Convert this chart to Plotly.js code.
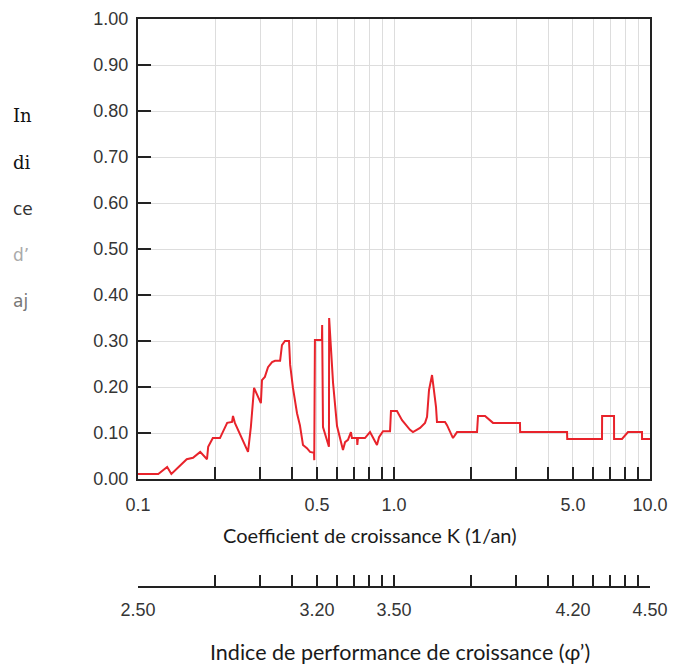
<!DOCTYPE html>
<html>
<head>
<meta charset="utf-8">
<script src="https://cdn.plot.ly/plotly-3.0.1.min.js"></script>
<style>html,body{margin:0;padding:0;background:#fff;}#chart{width:674px;height:665px;}</style>
</head>
<body>
<div id="chart"></div>
<script>
// Growth coefficient K (1/an)
const kValues = [0.100,0.120,0.130,0.135,0.155,0.164,0.175,0.186,0.188,0.196,0.209,0.223,0.233,0.235,0.239,0.269,0.276,0.284,0.302,0.305,0.313,0.322,0.334,0.343,0.359,0.365,0.375,0.389,0.393,0.403,0.418,0.429,0.441,0.457,0.470,0.487,0.488,0.491,0.523,0.524,0.528,0.557,0.558,0.568,0.578,0.599,0.615,0.632,0.644,0.661,0.679,0.685,0.717,0.719,0.723,0.770,0.806,0.828,0.858,0.874,0.906,0.965,0.973,1.027,1.075,1.155,1.186,1.264,1.322,1.346,1.370,1.408,1.420,1.459,1.472,1.582,1.611,1.700,1.763,2.110,2.129,2.268,2.436,3.105,3.110,4.742,4.750,6.494,6.500,7.235,7.240,7.773,8.205,9.306,9.310,10.0];
// Fit index
const fitIndex = [0.011,0.011,0.026,0.011,0.043,0.046,0.059,0.043,0.070,0.089,0.089,0.122,0.124,0.137,0.122,0.059,0.113,0.198,0.165,0.215,0.222,0.243,0.254,0.257,0.257,0.291,0.300,0.300,0.248,0.198,0.143,0.117,0.074,0.067,0.059,0.057,0.041,0.302,0.302,0.335,0.113,0.070,0.350,0.265,0.209,0.115,0.089,0.063,0.080,0.085,0.102,0.089,0.089,0.074,0.089,0.089,0.102,0.089,0.074,0.091,0.104,0.104,0.148,0.148,0.128,0.107,0.102,0.111,0.122,0.135,0.193,0.226,0.209,0.157,0.124,0.124,0.117,0.089,0.102,0.102,0.137,0.137,0.122,0.122,0.102,0.102,0.087,0.087,0.137,0.137,0.087,0.087,0.102,0.102,0.087,0.087];

const kTicks = [0.1,0.2,0.3,0.4,0.5,0.6,0.7,0.8,0.9,1,2,3,4,5,6,7,8,9,10];
const kTickText = ['0.1','','','','0.5','','','','','1.0','','','','5.0','','','','','10.0'];
const phiTicks = [2.50,2.801,2.977,3.102,3.199,3.278,3.345,3.403,3.454,3.50,3.801,3.977,4.102,4.199,4.278,4.345,4.403,4.454,4.50];
const phiTickText = ['2.50','','','','3.20','','','','','3.50','','','','4.20','','','','','4.50'];
const yTicks = [0,0.1,0.2,0.3,0.4,0.5,0.6,0.7,0.8,0.9,1.0];
const yTickText = ['0.00','0.10','0.20','0.30','0.40','0.50','0.60','0.70','0.80','0.90','1.00'];
const yTitleParts = ['In','di','ce','d\u2019','aj'];

// layout geometry (pixels)
const W = 674, H = 665, L = 138, R = 650, T = 19, B = 479, B2 = 587;
const ph = B2 - T;
const yDomBottom = (B2 - B) / ph;
const px = x => (x - L) / (R - L);
const py = y => (B2 - y) / ph;

const tickFont = {family: 'Liberation Sans, Arial, sans-serif', size: 18, color: '#353535'};
const titleFont = {family: 'Lato, Open Sans, sans-serif', size: 20, color: '#1a1a1a'};

const traces = [
  {x: kValues, y: fitIndex, type: 'scatter', mode: 'lines', line: {color: '#e8232b', width: 2}, xaxis: 'x', yaxis: 'y', hoverinfo: 'skip'},
  {x: [phiTicks[0], phiTicks[phiTicks.length-1]], y: [null, null], type: 'scatter', mode: 'lines', xaxis: 'x2', yaxis: 'y', showlegend: false, hoverinfo: 'skip'}
];

const yStyles = [
  {family: 'DejaVu Serif, serif', color: '#111', size: 18},
  {family: 'DejaVu Serif, serif', color: '#111', size: 18},
  {family: 'DejaVu Sans, sans-serif', color: '#333', size: 17},
  {family: 'DejaVu Sans, sans-serif', color: '#aaa', size: 17},
  {family: 'DejaVu Sans, sans-serif', color: '#777', size: 17}
];
const yPos = [115, 162, 209, 255, 301];
const annotations = yTitleParts.map((t, i) => ({
  text: t, xref: 'paper', yref: 'paper', x: px(11), y: py(yPos[i]), xanchor: 'left', yanchor: 'middle',
  showarrow: false, font: yStyles[i]
}));
annotations.push({text: 'Coefficient de croissance K (1/an)', xref: 'paper', yref: 'paper', x: px(369), y: py(535), xanchor: 'center', yanchor: 'middle', showarrow: false, font: titleFont});
annotations.push({text: 'Indice de performance de croissance (\u03c6\u2019)', xref: 'paper', yref: 'paper', x: px(400), y: py(652), xanchor: 'center', yanchor: 'middle', showarrow: false, font: {family: titleFont.family, size: 21.5, color: titleFont.color}});

const layout = {
  width: W, height: H,
  margin: {l: L, r: W - R, t: T, b: H - B2, pad: 0},
  paper_bgcolor: '#fff', plot_bgcolor: '#fff',
  showlegend: false,
  xaxis: {
    type: 'log', range: [-1, 1], anchor: 'y',
    tickmode: 'array', tickvals: kTicks, ticktext: kTickText,
    ticks: 'inside', ticklen: 12, tickwidth: 2, tickcolor: '#222',
    showgrid: true, gridcolor: '#dddddd', gridwidth: 1,
    showline: true, linecolor: '#222', linewidth: 2, mirror: true,
    zeroline: false, tickfont: tickFont, ticklabelstandoff: 8
  },
  xaxis2: {
    range: [2.5, 4.5], anchor: 'free', position: 0, overlaying: 'x', side: 'bottom',
    tickmode: 'array', tickvals: phiTicks, ticktext: phiTickText,
    ticks: 'inside', ticklen: 11, tickwidth: 2, tickcolor: '#222',
    showgrid: false, showline: true, linecolor: '#222', linewidth: 2,
    zeroline: false, tickfont: tickFont, ticklabelstandoff: 6
  },
  yaxis: {
    range: [0, 1], domain: [yDomBottom, 1],
    tickmode: 'array', tickvals: yTicks, ticktext: yTickText,
    ticks: 'inside', ticklen: 13, tickwidth: 2, tickcolor: '#222',
    showgrid: true, gridcolor: '#dddddd', gridwidth: 1,
    showline: true, linecolor: '#222', linewidth: 2, mirror: true,
    zeroline: false, tickfont: tickFont, ticklabelstandoff: 4
  },
  annotations: annotations
};

Plotly.newPlot('chart', traces, layout, {displayModeBar: false, staticPlot: true});
</script>
</body>
</html>
